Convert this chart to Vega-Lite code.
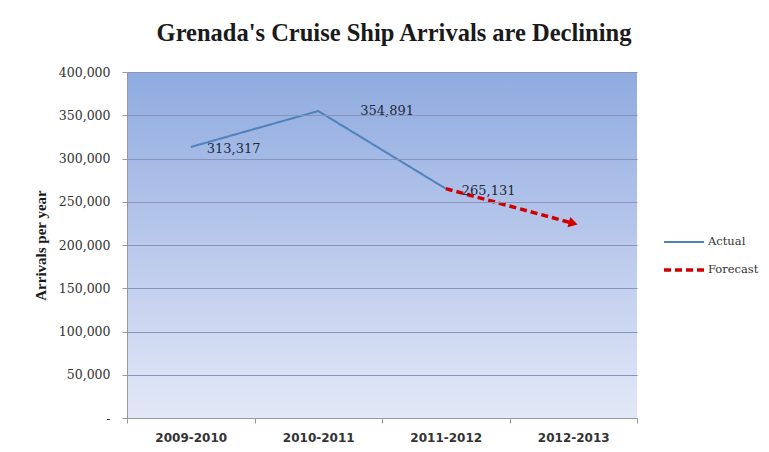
{
  "$schema": "https://vega.github.io/schema/vega-lite/v6.json",
  "autosize": {"type": "none"},
  "width": 510,
  "height": 346,
  "padding": {"left": 127, "top": 72, "right": 132, "bottom": 34},
  "background": "white",
  "title": {
    "text": "Grenada's Cruise Ship Arrivals are Declining",
    "font": "Liberation Serif",
    "fontSize": 24.5,
    "fontWeight": "bold",
    "color": "#1a1a1a",
    "anchor": "middle",
    "frame": "group",
    "dx": 12,
    "offset": 20
  },
  "config": {
    "view": {"stroke": null},
    "axis": {"labelFont": "DejaVu Serif", "titleFont": "Liberation Serif"}
  },
  "data": {
    "values": [
      {"period": "2009-2010", "value": 313317, "series": "Actual"},
      {"period": "2010-2011", "value": 354891, "series": "Actual"},
      {"period": "2011-2012", "value": 265131, "series": "Actual"},
      {"period": "2011-2012", "value": 265131, "series": "Forecast"},
      {"period": "2012-2013", "value": 225000, "series": "Forecast"}
    ]
  },
  "encoding": {
    "x": {
      "field": "period",
      "type": "ordinal",
      "scale": {"paddingInner": 0, "paddingOuter": 0},
      "axis": {
        "title": null,
        "labelAngle": 0,
        "labelFont": "DejaVu Sans",
        "labelFontWeight": "bold",
        "labelFontSize": 12,
        "labelColor": "#333333",
        "labelPadding": 9,
        "tickBand": "extent",
        "tickColor": "#999999",
        "tickSize": 5,
        "domainColor": "#999999",
        "zindex": 1
      }
    },
    "y": {
      "field": "value",
      "type": "quantitative",
      "scale": {"domain": [0, 400000]},
      "axis": {
        "title": "Arrivals per year",
        "titleFontSize": 15,
        "titleFontWeight": "bold",
        "titleColor": "#1a1a1a",
        "titlePadding": 10,
        "values": [0, 50000, 100000, 150000, 200000, 250000, 300000, 350000, 400000],
        "labelExpr": "datum.value == 0 ? '-' : format(datum.value, ',')",
        "labelFontSize": 12.5,
        "labelColor": "#333333",
        "labelPadding": 12,
        "tickSize": 5,
        "tickColor": "#999999",
        "domainColor": "#999999",
        "gridColor": "#8796b8",
        "gridWidth": 1,
        "zindex": 1
      }
    }
  },
  "layer": [
    {
      "data": {"values": [{}]},
      "mark": {
        "type": "rect",
        "color": {
          "gradient": "linear",
          "x1": 0, "y1": 0, "x2": 0, "y2": 1,
          "stops": [
            {"offset": 0, "color": "#8fabe0"},
            {"offset": 0.5, "color": "#bac9ec"},
            {"offset": 1, "color": "#e2e8f7"}
          ]
        }
      },
      "encoding": {"x": null, "y": null}
    },
    {
      "mark": {"type": "line"},
      "encoding": {
        "color": {
          "field": "series",
          "type": "nominal",
          "scale": {"domain": ["Actual", "Forecast"], "range": ["#4f81bd", "#d00000"]},
          "legend": {
            "title": null,
            "orient": "none",
            "legendX": 535,
            "legendY": 149,
            "symbolType": "stroke",
            "symbolSize": 1600,
            "symbolStrokeWidth": 2.5,
            "labelFont": "DejaVu Serif",
            "labelFontSize": 11.5,
            "labelColor": "#333333",
            "labelOffset": 2,
            "rowPadding": -11
          }
        },
        "strokeDash": {
          "field": "series",
          "type": "nominal",
          "scale": {"domain": ["Actual", "Forecast"], "range": [[1, 0], [7, 4]]},
          "legend": {
            "title": null,
            "orient": "none",
            "legendX": 535,
            "legendY": 149,
            "symbolType": "stroke",
            "symbolSize": 1600,
            "symbolStrokeWidth": 2.5,
            "labelFont": "DejaVu Serif",
            "labelFontSize": 11.5,
            "labelColor": "#333333",
            "labelOffset": 2,
            "rowPadding": -11
          }
        },
        "strokeWidth": {
          "field": "series",
          "type": "nominal",
          "scale": {"domain": ["Actual", "Forecast"], "range": [2, 3.5]},
          "legend": null
        }
      }
    },
    {
      "transform": [{"filter": "datum.series == 'Forecast' && datum.period == '2012-2013'"}],
      "mark": {"type": "point", "shape": "triangle-right", "filled": true, "color": "#d00000", "size": 110, "angle": 15.5, "opacity": 1}
    },
    {
      "transform": [{"filter": "datum.series == 'Actual' && datum.period != '2010-2011'"}],
      "mark": {"type": "text", "align": "left", "dx": 16, "dy": 2, "font": "DejaVu Serif", "fontSize": 13, "color": "#1f2a3a"},
      "encoding": {"text": {"field": "value", "type": "quantitative", "format": ","}}
    },
    {
      "transform": [{"filter": "datum.series == 'Actual' && datum.period == '2010-2011'"}],
      "mark": {"type": "text", "align": "left", "dx": 42, "dy": 0, "font": "DejaVu Serif", "fontSize": 13, "color": "#1f2a3a"},
      "encoding": {"text": {"field": "value", "type": "quantitative", "format": ","}}
    }
  ]
}
